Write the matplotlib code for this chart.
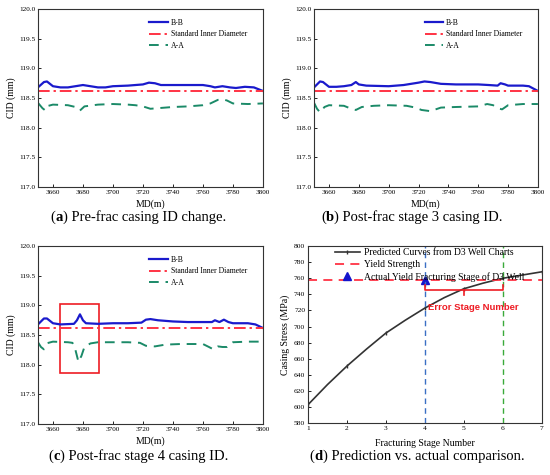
import matplotlib
matplotlib.use("Agg")
import matplotlib.pyplot as plt
from matplotlib.patches import Rectangle
from matplotlib.offsetbox import TextArea, HPacker, AnchoredOffsetbox

plt.rcParams['font.family'] = ['Liberation Serif', 'DejaVu Serif']

# ---------------- data ----------------
std_id = 118.62

a_bb_x = [3650, 3654, 3656, 3660, 3665, 3670, 3675, 3680, 3685, 3690, 3695, 3700, 3710, 3720, 3724, 3728, 3732, 3740, 3750, 3760, 3765, 3768, 3773, 3778, 3782, 3788, 3794, 3800]
a_bb_y = [118.68, 118.77, 118.78, 118.70, 118.68, 118.68, 118.70, 118.72, 118.70, 118.68, 118.68, 118.70, 118.71, 118.73, 118.76, 118.75, 118.72, 118.72, 118.72, 118.72, 118.70, 118.68, 118.70, 118.68, 118.67, 118.69, 118.68, 118.62]
a_aa_x = [3650, 3653, 3655, 3657, 3660, 3670, 3675, 3678, 3681, 3690, 3700, 3710, 3715, 3720, 3725, 3730, 3740, 3750, 3760, 3765, 3770, 3773, 3776, 3780, 3790, 3800]
a_aa_y = [118.42, 118.33, 118.29, 118.37, 118.39, 118.38, 118.35, 118.29, 118.36, 118.39, 118.40, 118.39, 118.38, 118.36, 118.32, 118.33, 118.35, 118.36, 118.38, 118.41, 118.47, 118.48, 118.46, 118.41, 118.40, 118.41]

b_bb_x = [3650, 3654, 3656, 3660, 3665, 3670, 3675, 3678, 3680, 3685, 3700, 3710, 3715, 3720, 3724, 3728, 3735, 3745, 3760, 3767, 3773, 3775, 3778, 3780, 3790, 3794, 3800]
b_bb_y = [118.68, 118.78, 118.77, 118.69, 118.69, 118.70, 118.72, 118.77, 118.73, 118.71, 118.70, 118.72, 118.74, 118.76, 118.78, 118.77, 118.74, 118.73, 118.73, 118.72, 118.71, 118.75, 118.73, 118.71, 118.71, 118.70, 118.62]
b_aa_x = [3650, 3652, 3654, 3657, 3660, 3670, 3675, 3678, 3682, 3690, 3700, 3712, 3718, 3722, 3728, 3735, 3745, 3760, 3766, 3770, 3773, 3776, 3780, 3790, 3800]
b_aa_y = [118.42, 118.32, 118.26, 118.35, 118.38, 118.37, 118.32, 118.30, 118.35, 118.37, 118.38, 118.37, 118.34, 118.30, 118.28, 118.34, 118.35, 118.36, 118.40, 118.38, 118.33, 118.31, 118.38, 118.40, 118.40]

c_bb_x = [3650, 3654, 3656, 3660, 3665, 3674, 3676, 3678, 3680, 3682, 3690, 3700, 3710, 3719, 3722, 3725, 3730, 3740, 3750, 3760, 3766, 3768, 3771, 3774, 3777, 3780, 3790, 3795, 3800]
c_bb_y = [118.68, 118.78, 118.78, 118.70, 118.68, 118.69, 118.75, 118.85, 118.75, 118.70, 118.69, 118.70, 118.70, 118.71, 118.76, 118.77, 118.75, 118.73, 118.72, 118.72, 118.72, 118.75, 118.72, 118.76, 118.72, 118.70, 118.70, 118.68, 118.62]
c_aa_x = [3650, 3652, 3654, 3657, 3660, 3670, 3673, 3675, 3677, 3679, 3681, 3685, 3690, 3700, 3710, 3718, 3722, 3728, 3735, 3745, 3760, 3764, 3767, 3770, 3773, 3776, 3780, 3790, 3800]
c_aa_y = [118.38, 118.30, 118.26, 118.37, 118.39, 118.38, 118.37, 118.25, 118.05, 118.15, 118.30, 118.36, 118.38, 118.38, 118.38, 118.37, 118.32, 118.31, 118.34, 118.35, 118.35, 118.30, 118.26, 118.31, 118.30, 118.30, 118.38, 118.39, 118.39]

d_stage = [1, 1.5, 2, 2.5, 3, 3.5, 4, 4.5, 5, 5.5, 6, 6.5, 7]
d_stress = [603, 628, 651, 672, 692, 708, 723, 736, 747, 754, 760, 764, 768]
d_marker_idx = [0, 2, 4, 6, 8, 10, 12]
yield_strength = 758
actual_stage = 4
predicted_stage = 6

captions = [("a", " Pre-frac casing ID change."),
            ("b", " Post-frac stage 3 casing ID."),
            ("c", " Post-frac stage 4 casing ID."),
            ("d", " Prediction vs. actual comparison.")]

# ---------------- figure ----------------
fig = plt.figure(figsize=(5.5, 4.75), dpi=100)

BLUE = '#1a1acc'
RED = '#ff3344'
GREEN = '#1b8a68'

def style_axes(ax, ls):
    ax.tick_params(direction='in', labelsize=ls, length=2.5, width=0.6, pad=2)
    for s in ax.spines.values():
        s.set_linewidth(0.8)
        s.set_color('#333333')

def cid_panel(rect, bbx, bby, aax, aay):
    ax = fig.add_axes(rect)
    ax.plot(bbx, bby, color=BLUE, lw=1.6, label='B-B')
    ax.axhline(std_id, color=RED, lw=1.4, ls=(0, (6, 2, 1.2, 2)), label='Standard Inner Diameter')
    ax.plot(aax, aay, color=GREEN, lw=1.4, ls=(0, (5, 3.5)), label='A-A')
    ax.set_xlim(3650, 3800)
    ax.set_ylim(117.0, 120.0)
    ax.set_xticks([3660, 3680, 3700, 3720, 3740, 3760, 3780, 3800])
    ax.set_yticks([117.0, 117.5, 118.0, 118.5, 119.0, 119.5, 120.0])
    ax.set_yticklabels(['117.0', '117.5', '118.0', '118.5', '119.0', '119.5', '120.0'])
    style_axes(ax, 5.2)
    ax.set_xlabel('MD(m)', fontsize=7, labelpad=3)
    ax.set_ylabel('CID (mm)', fontsize=7, labelpad=2)
    ax.legend(loc='upper left', bbox_to_anchor=(0.47, 0.975), frameon=False,
              fontsize=5.6, handlelength=2.4, handletextpad=0.35, labelspacing=0.45,
              borderpad=0.2)
    return ax

ax_a = cid_panel([0.069, 0.606, 0.409, 0.375], a_bb_x, a_bb_y, a_aa_x, a_aa_y)
ax_b = cid_panel([0.571, 0.606, 0.407, 0.375], b_bb_x, b_bb_y, b_aa_x, b_aa_y)
ax_c = cid_panel([0.069, 0.107, 0.409, 0.375], c_bb_x, c_bb_y, c_aa_x, c_aa_y)
ax_c.add_patch(Rectangle((3665, 117.87), 26, 1.15, fill=False, ec='#ee1c24', lw=1.2))

# panel d
ax = fig.add_axes([0.560, 0.109, 0.425, 0.373])
ax.plot(d_stage, d_stress, color='#333333', lw=1.2, marker='|', markersize=2.5,
        markevery=d_marker_idx, label='Predicted Curves from D3 Well Charts')
ax.axhline(yield_strength, color=RED, lw=1.3, ls=(0, (5, 3.5)), label='Yield Strength')
ax.plot([actual_stage], [yield_strength], ls='none', marker='^', color='#1414cc',
        markersize=5.5, label='Actual Yield Fracturing Stage of D3 Well')
ax.axvline(actual_stage, color='#3a6fc4', lw=1.0, ls=(0, (4, 3)))
ax.axvline(predicted_stage, color='#3aaa3a', lw=1.0, ls=(0, (4, 3)))
# error bracket
ax.plot([actual_stage, actual_stage, predicted_stage, predicted_stage],
        [752, 745, 745, 752], color='#ee1c24', lw=1.2)
ax.plot([(actual_stage + predicted_stage) / 2] * 2, [745, 739], color='#ee1c24', lw=1.2)
ax.text(actual_stage + 0.08, 724, 'Error Stage Number', color='#ee1c24', fontsize=6.8,
        fontweight='bold', family=['Liberation Sans', 'DejaVu Sans'], va='center', ha='left')
ax.set_xlim(1, 7)
ax.set_ylim(580, 800)
ax.set_xticks(range(1, 8))
ax.set_yticks(range(580, 801, 20))
style_axes(ax, 5.4)
ax.set_xlabel('Fracturing Stage Number', fontsize=7, labelpad=6)
ax.set_ylabel('Casing Stress (MPa)', fontsize=7, labelpad=3)
ax.legend(loc='upper left', bbox_to_anchor=(0.09, 1.02), frameon=False,
          fontsize=6.9, handlelength=2.6, handletextpad=0.5, labelspacing=0.3,
          borderpad=0.1)

# captions
cap_pos = [(0.251, 0.543), (0.749, 0.543), (0.251, 0.040), (0.758, 0.040)]
for (lab, rest), (cx, cy) in zip(captions, cap_pos):
    t1 = TextArea('(', textprops=dict(fontsize=10.5, family=['Liberation Serif']))
    t2 = TextArea(lab, textprops=dict(fontsize=10.5, fontweight='bold', family=['Liberation Serif']))
    t3 = TextArea(')' + rest, textprops=dict(fontsize=10.5, family=['Liberation Serif']))
    box = HPacker(children=[t1, t2, t3], align='baseline', pad=0, sep=0)
    anch = AnchoredOffsetbox(loc='center', child=box, frameon=False,
                             bbox_to_anchor=(cx, cy), bbox_transform=fig.transFigure,
                             borderpad=0, pad=0)
    fig.add_artist(anch)

fig.savefig('out.png', dpi=100)
